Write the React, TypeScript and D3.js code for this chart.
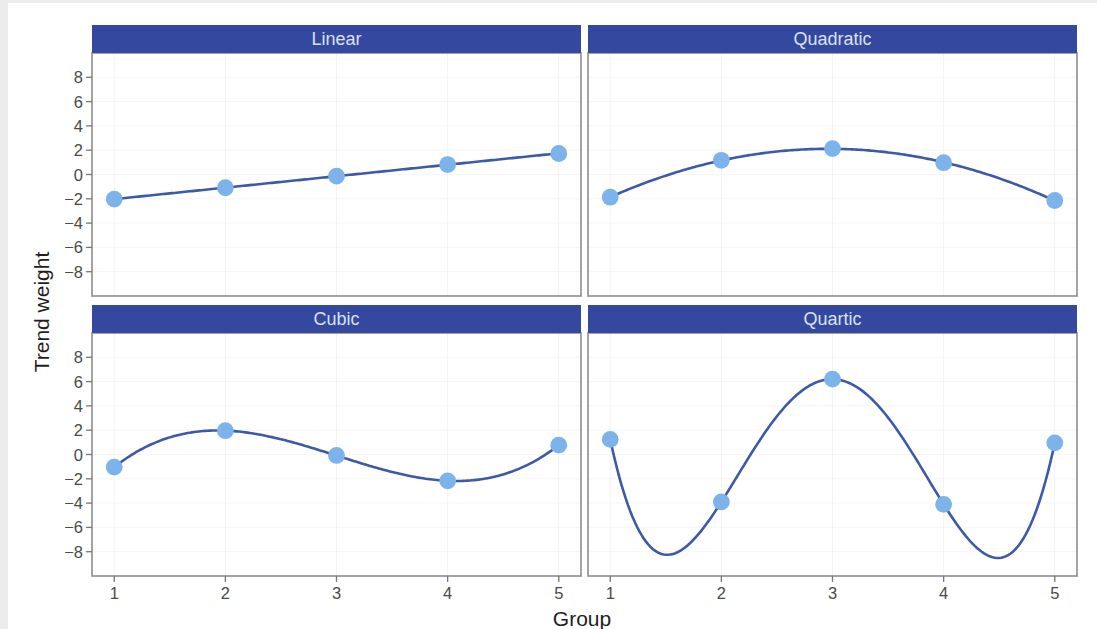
import React from 'react';
import * as d3 from 'd3';

const groups = [1, 2, 3, 4, 5];
const panelNames = ['Linear', 'Quadratic', 'Cubic', 'Quartic'];
const degrees = [1, 2, 3, 4];
const linearVals = [-2.03, -1.09, -0.13, 0.82, 1.73];
const quadraticVals = [-1.87, 1.17, 2.13, 0.97, -2.14];
const cubicVals = [-1.04, 1.96, -0.08, -2.17, 0.77];
const quarticVals = [1.24, -3.9, 6.2, -4.1, 0.96];
const seriesVals = [linearVals, quadraticVals, cubicVals, quarticVals];
const yTicks = [-8, -6, -4, -2, 0, 2, 4, 6, 8];
const xTicks = [1, 2, 3, 4, 5];

const W = 1097;
const H = 629;
const cols = [
  { x0: 92, x1: 581 },
  { x0: 588, x1: 1077 },
];
const rows = [
  { s0: 25, p0: 53, p1: 296 },
  { s0: 305, p0: 333, p1: 576 },
];

function polyFit(xs: number[], ys: number[], deg: number): number[] {
  const n = deg + 1;
  const A: number[][] = Array.from({ length: n }, () => new Array(n + 1).fill(0));
  xs.forEach((x0, i) => {
    const x = x0 - 3;
    for (let r = 0; r < n; r++) {
      for (let c = 0; c < n; c++) A[r][c] += Math.pow(x, r + c);
      A[r][n] += Math.pow(x, r) * ys[i];
    }
  });
  for (let i = 0; i < n; i++) {
    let p = i;
    for (let k = i + 1; k < n; k++) if (Math.abs(A[k][i]) > Math.abs(A[p][i])) p = k;
    [A[i], A[p]] = [A[p], A[i]];
    for (let k = 0; k < n; k++) {
      if (k === i) continue;
      const f = A[k][i] / A[i][i];
      for (let c = i; c <= n; c++) A[k][c] -= f * A[i][c];
    }
  }
  return A.map((row, i) => row[n] / row[i]);
}

function evalPoly(coef: number[], x0: number) {
  const x = x0 - 3;
  return coef.reduce((s, c, i) => s + c * Math.pow(x, i), 0);
}

const font = 'Liberation Sans, Arial, Helvetica, sans-serif';

export default function App() {
  return (
    <svg
      width={W}
      height={H}
      style={{ position: 'absolute', left: 0, top: 0, background: '#ffffff' }}
      fontFamily={font}
    >
      <rect x={0} y={0} width={W} height={H} fill="#ffffff" />
      <rect x={0} y={0} width={8} height={H} fill="#ececec" />
      <rect x={0} y={0} width={W} height={3} fill="#ececec" />
      <defs>
        {panelNames.map((_, i) => {
          const c = cols[i % 2];
          const r = rows[Math.floor(i / 2)];
          return (
            <clipPath id={`clip${i}`} key={i}>
              <rect x={c.x0} y={r.p0} width={c.x1 - c.x0} height={r.p1 - r.p0} />
            </clipPath>
          );
        })}
      </defs>
      {panelNames.map((name, i) => {
        const c = cols[i % 2];
        const r = rows[Math.floor(i / 2)];
        const x = d3.scaleLinear().domain([0.8, 5.2]).range([c.x0, c.x1]);
        const y = d3.scaleLinear().domain([-10, 10]).range([r.p1, r.p0]);
        const vals = seriesVals[i];
        const coef = polyFit(groups, vals, degrees[i]);
        const samples = d3.range(0, 201).map((k) => 1 + (4 * k) / 200);
        const line = d3
          .line<number>()
          .x((d) => x(d))
          .y((d) => y(evalPoly(coef, d)))
          .curve(d3.curveLinear);
        return (
          <g key={name}>
            <rect x={c.x0} y={r.p0} width={c.x1 - c.x0} height={r.p1 - r.p0} fill="#ffffff" />
            {yTicks.map((t) => (
              <line key={`gy${t}`} x1={c.x0} x2={c.x1} y1={y(t)} y2={y(t)} stroke="#f6f6f6" strokeWidth={1} />
            ))}
            {xTicks.map((t) => (
              <line key={`gx${t}`} x1={x(t)} x2={x(t)} y1={r.p0} y2={r.p1} stroke="#f3f3f3" strokeWidth={1} />
            ))}
            <g clipPath={`url(#clip${i})`}>
              <path d={line(samples) || ''} fill="none" stroke="#3d5aa6" strokeWidth={2.6} />
              {groups.map((g, k) => (
                <circle key={k} cx={x(g)} cy={y(vals[k])} r={8.4} fill="#7cb3ea" />
              ))}
            </g>
            <rect
              x={c.x0}
              y={r.p0}
              width={c.x1 - c.x0}
              height={r.p1 - r.p0}
              fill="none"
              stroke="#8c8c8c"
              strokeWidth={1.6}
            />
            <rect x={c.x0} y={r.s0} width={c.x1 - c.x0} height={r.p0 - r.s0} fill="#35489f" />
            <text
              x={(c.x0 + c.x1) / 2}
              y={(r.s0 + r.p0) / 2 + 6}
              textAnchor="middle"
              fontSize={18}
              fill="#d8e2f5"
            >
              {name}
            </text>
            {i % 2 === 0 &&
              yTicks.map((t) => (
                <g key={`yt${t}`}>
                  <line x1={c.x0 - 6} x2={c.x0} y1={y(t)} y2={y(t)} stroke="#777" strokeWidth={1.3} />
                  <text x={c.x0 - 9} y={y(t) + 6} textAnchor="end" fontSize={16.5} fill="#4a4a4a">
                    {t < 0 ? `\u2212${Math.abs(t)}` : `${t}`}
                  </text>
                </g>
              ))}
            {i >= 2 &&
              xTicks.map((t) => (
                <g key={`xt${t}`}>
                  <line x1={x(t)} x2={x(t)} y1={r.p1} y2={r.p1 + 6} stroke="#777" strokeWidth={1.3} />
                  <text x={x(t)} y={r.p1 + 23} textAnchor="middle" fontSize={16.5} fill="#4a4a4a">
                    {t}
                  </text>
                </g>
              ))}
          </g>
        );
      })}
      <text
        transform={`translate(49, 312) rotate(-90)`}
        textAnchor="middle"
        fontSize={21}
        fill="#1e1e1e"
      >
        Trend weight
      </text>
      <text x={582} y={626} textAnchor="middle" fontSize={21} fill="#1e1e1e">
        Group
      </text>
    </svg>
  );
}
